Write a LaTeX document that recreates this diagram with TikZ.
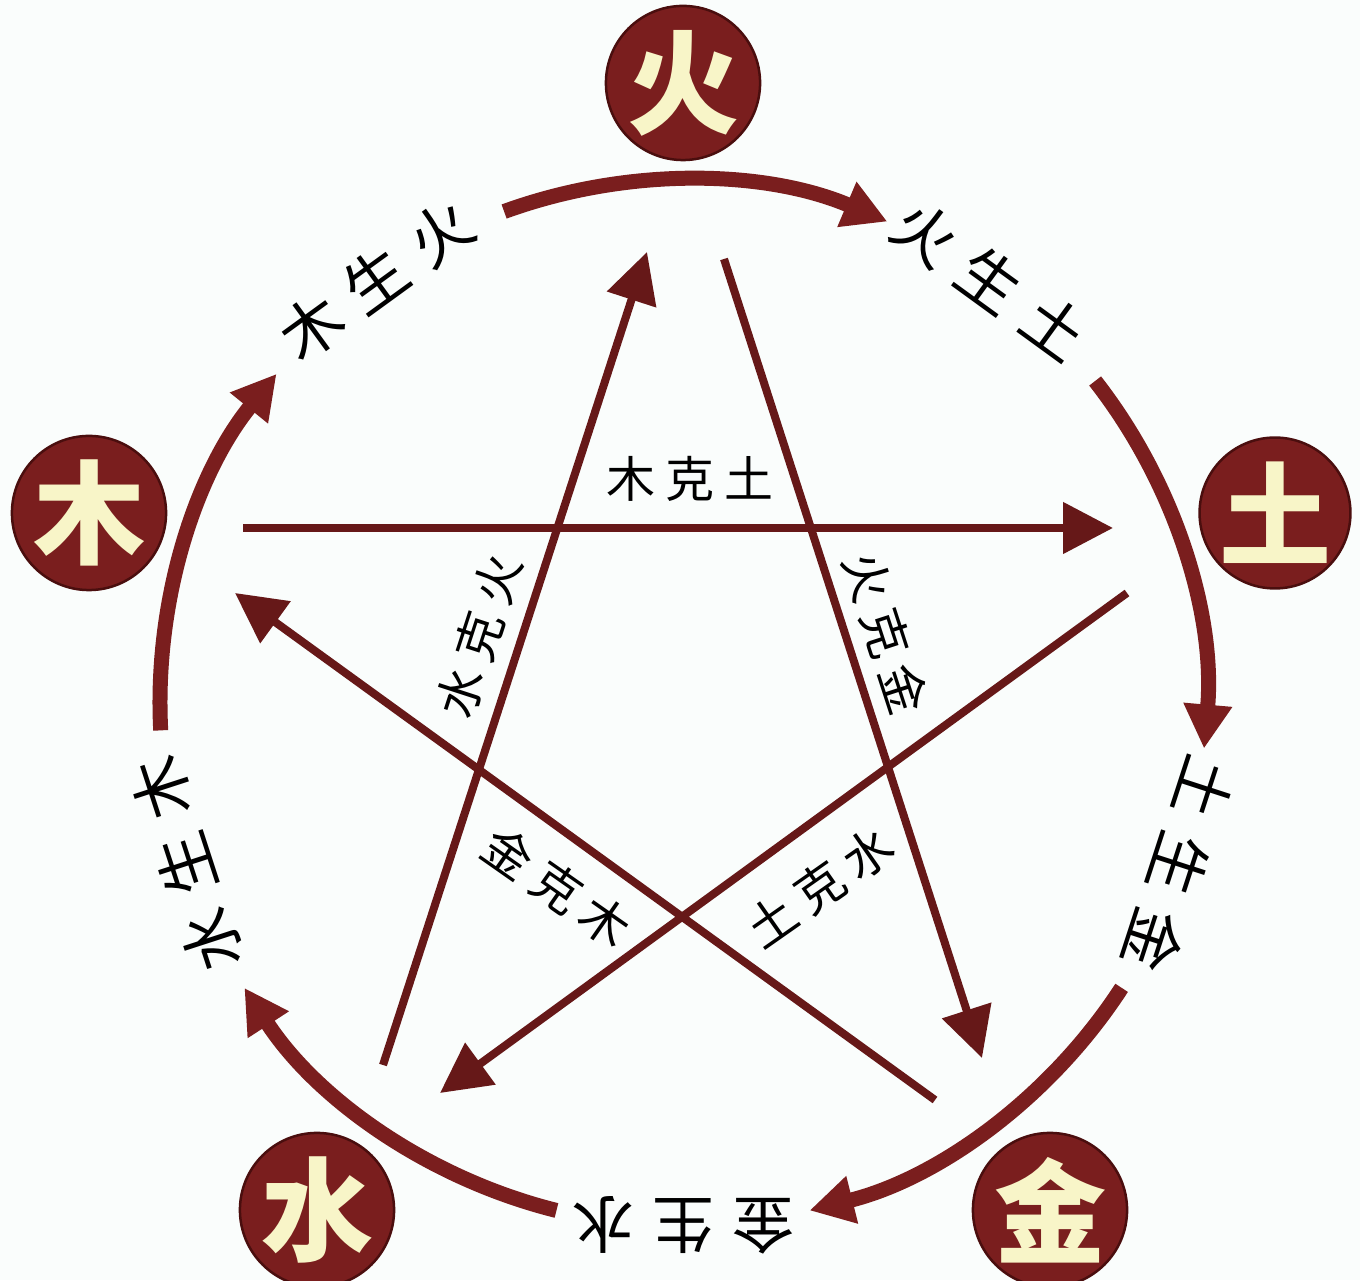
\documentclass[tikz,border=0pt]{standalone}
\usepackage{fontspec}
\newfontfamily\cjk{Noto Sans CJK SC}
\usetikzlibrary{arrows.meta,calc}
\definecolor{wxred}{HTML}{7A1E1E}
\definecolor{wxdark}{HTML}{4A0E0E}
\definecolor{wxline}{HTML}{661818}
\definecolor{wxcream}{HTML}{F8F5C8}
\definecolor{wxbg}{HTML}{FAFDFC}
\newcommand\wxtri[3]{#1\hspace{18pt}#2\hspace{18pt}#3}
\newcommand\wxtrin[3]{#1\hspace{10pt}#2\hspace{10pt}#3}
\begin{document}
\begin{tikzpicture}[x=1pt,y=1pt,
  elem/.style={circle, fill=wxred, draw=wxdark, line width=2.5pt, minimum size=150pt, inner sep=0pt, text=wxcream, font=\cjk\bfseries\fontsize{112}{112}\selectfont},
  outlbl/.style={inner sep=0pt, text=black, font=\cjk\fontsize{62}{62}\selectfont},
  inlbl/.style={inner sep=0pt, text=black, font=\cjk\fontsize{49}{49}\selectfont},
  cycarrow/.style={draw=wxred, line width=15pt, -{Triangle[length=44pt,width=46pt]}},
  kearrow/.style={draw=wxline, line width=8pt, -{Triangle[length=50pt,width=50pt]}}
]
\useasboundingbox (0,0) rectangle (1360,1280);
\fill[wxbg] (0,0) rectangle (1360,1280);

\coordinate (C) at (683,577);

% element circles
\node[elem] (huo)  at (683,1197) {火};
\node[elem] (tu)   at (1275,767) {土};
\node[elem] (jin)  at (1050,70) {金};
\node[elem] (shui) at (317,70) {水};
\node[elem] (mu)   at (89,767) {木};

% generating-cycle labels
\node[outlbl, rotate=36]   (mush) at ($(C)+(126:522)$) {\wxtri{木}{生}{火}};
\node[outlbl, rotate=-36]  (hush) at ($(C)+(54:522)$)  {\wxtri{火}{生}{土}};
\node[outlbl, rotate=-108] (tush) at ($(C)+(-18:522)$) {\wxtri{土}{生}{金}};
\node[outlbl, rotate=180]  (jish) at ($(C)+(-90:522)$) {\wxtri{金}{生}{水}};
\node[outlbl, rotate=108]  (shsh) at ($(C)+(198:522)$) {\wxtri{水}{生}{木}};

% generating-cycle arcs
\coordinate (a1) at ($(C)+(110:523)$);
\coordinate (a2) at ($(C)+(38:523)$);
\coordinate (a3) at ($(C)+(-33:523)$);
\coordinate (a4) at ($(C)+(-104:523)$);
\coordinate (a5) at ($(C)+(183:523)$);
\draw[cycarrow] (a1) arc[start angle=110, end angle=67, radius=523];
\draw[cycarrow] (a2) arc[start angle=38, end angle=-5, radius=523];
\draw[cycarrow] (a3) arc[start angle=-33, end angle=-76, radius=523];
\draw[cycarrow] (a4) arc[start angle=-104, end angle=-147, radius=523];
\draw[cycarrow] (a5) arc[start angle=183, end angle=141, radius=523];

% controlling-cycle lines
\coordinate (k1s) at (243,752);  \coordinate (k1e) at (1113,752);
\coordinate (k2s) at (724,1021); \coordinate (k2e) at (982,222);
\coordinate (k3s) at (935,180);  \coordinate (k3e) at (235,687);
\coordinate (k4s) at (1127,687); \coordinate (k4e) at (440,187);
\coordinate (k5s) at (383,215);  \coordinate (k5e) at (647,1028);
\draw[kearrow] (k1s) -- (k1e);
\draw[kearrow] (k2s) -- (k2e);
\draw[kearrow] (k3s) -- (k3e);
\draw[kearrow] (k4s) -- (k4e);
\draw[kearrow] (k5s) -- (k5e);

% controlling-cycle labels
\node[inlbl] (muke) at (690,801) {\wxtrin{木}{克}{土}};
\node[inlbl, rotate=72]  (shke) at (479,644) {\wxtrin{水}{克}{火}};
\node[inlbl, rotate=-72] (huke) at (886,647) {\wxtrin{火}{克}{金}};
\node[inlbl, rotate=-35] (jike) at (557,393) {\wxtrin{金}{克}{木}};
\node[inlbl, rotate=35]  (tuke) at (820,393) {\wxtrin{土}{克}{水}};
\end{tikzpicture}
\end{document}
